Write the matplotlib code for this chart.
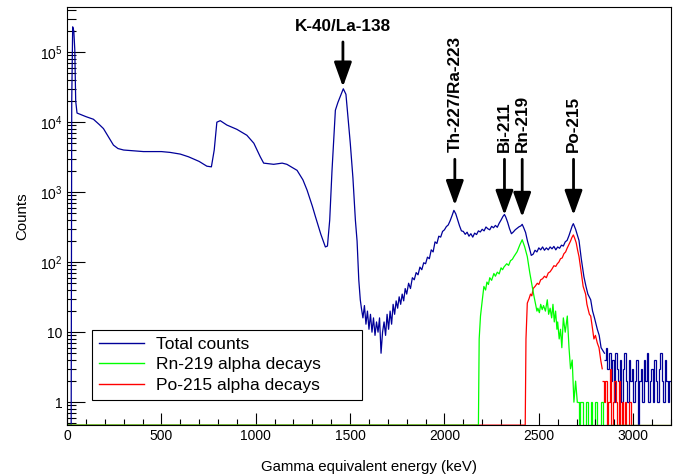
import numpy as np
import matplotlib
matplotlib.use('Agg')
import matplotlib.pyplot as plt
from matplotlib.ticker import FixedLocator, FixedFormatter, LogLocator, NullFormatter, MultipleLocator
from matplotlib.lines import Line2D

plt.rcParams['font.family'] = ['Liberation Sans', 'DejaVu Sans']
plt.rcParams['mathtext.fontset'] = 'custom'
plt.rcParams['mathtext.rm'] = 'Liberation Sans'
plt.rcParams['mathtext.it'] = 'Liberation Sans:italic'
plt.rcParams['mathtext.bf'] = 'Liberation Sans:bold'

# total spectrum, smooth part (keV, counts)
total_e = [0, 22, 25, 30, 36, 41, 46, 53, 100, 140, 170, 193, 219, 246, 270, 300,
           350, 405, 460, 500, 546, 600, 644, 700, 741, 765, 780, 794, 812, 847,
           900, 953, 990, 1024, 1042, 1095, 1140, 1165, 1219, 1250, 1272, 1300,
           1316, 1345, 1369, 1380, 1392, 1404, 1413, 1422, 1435, 1450, 1464, 1478,
           1490, 1501, 1515, 1528, 1537, 1546, 1554, 1560, 1568, 1576, 1584, 1592,
           1600, 1608, 1616, 1624, 1632, 1640, 1648, 1656, 1664, 1672, 1680, 1688,
           1696, 1704, 1712, 1720, 1728, 1736, 1744, 1752, 1760, 1768, 1776, 1784,
           1792, 1800, 1810, 1820, 1830, 1840, 1850, 1860, 1870, 1880, 1890, 1900,
           1910, 1920, 1930, 1940, 1950, 1960, 1970, 1980, 1990, 2000, 2010, 2020,
           2030, 2040, 2050, 2060, 2070, 2080, 2090, 2100, 2110, 2120, 2130, 2140,
           2150, 2160, 2170, 2180, 2190, 2200, 2210, 2220, 2230, 2240, 2250, 2260,
           2270, 2280, 2290, 2300, 2310, 2318, 2325, 2335, 2345, 2355, 2365, 2375,
           2385, 2395, 2405, 2412, 2420, 2430, 2440, 2450, 2460, 2470, 2480, 2490,
           2500, 2510, 2520, 2530, 2540, 2550, 2560, 2570, 2580, 2590, 2600, 2610,
           2620, 2630, 2640, 2650, 2660, 2670, 2677, 2683, 2695, 2705, 2713, 2725,
           2739, 2750, 2760, 2775, 2785, 2795, 2810, 2820, 2830, 2848]
total_c = [0, 0, 20000, 230000, 200000, 110000, 20000, 13500, 12000, 11000, 9300,
           8100, 6200, 4700, 4200, 4000, 3900, 3800, 3800, 3800, 3700, 3500, 3200,
           2750, 2350, 2300, 4000, 10000, 10500, 9100, 7900, 6500, 5000, 3200, 2600,
           2500, 2600, 2500, 2050, 1500, 1070, 630, 450, 250, 165, 170, 400, 2000,
           5500, 14800, 19000, 24000, 30000, 25000, 11000, 5000, 1600, 400, 200, 56,
           29, 22, 16, 24, 13, 20, 11, 18, 10, 16, 9, 14, 10, 16, 5, 10, 14, 9, 18,
           11, 20, 13, 25, 18, 28, 22, 32, 25, 35, 28, 42, 35, 50, 42, 60, 56,
           71, 66, 85, 78, 98, 95, 118, 112, 150, 140, 195, 185, 235, 228, 275, 290,
           322, 340, 390, 460, 550, 490, 400, 330, 280, 275, 250, 268, 235, 255,
           228, 260, 248, 280, 270, 295, 280, 318, 300, 290, 325, 310, 335, 315,
           360, 400, 450, 480, 440, 370, 300, 255, 270, 290, 305, 320, 330, 347,
           310, 265, 200, 160, 125, 130, 148, 140, 160, 150, 165, 148, 160, 150,
           165, 155, 168, 150, 165, 158, 175, 170, 195, 205, 240, 290, 330, 355,
           295, 240, 204, 112, 62, 45, 35, 29, 20, 16, 11, 9, 6, 5]

# Rn-219 alpha decays (keV, counts)
rn_e = [0, 2180, 2184, 2191, 2200, 2209, 2218, 2225, 2233, 2240, 2250, 2262, 2270,
        2280, 2290, 2300, 2308, 2315, 2330, 2340, 2350, 2360, 2368, 2385, 2400,
        2412, 2425, 2439, 2452, 2465, 2475, 2483, 2490, 2495, 2503, 2510, 2518,
        2525, 2535, 2545, 2552, 2560, 2568, 2575, 2582, 2589, 2596, 2600, 2608,
        2615, 2622, 2630, 2640, 2651, 2660, 2668, 2677, 2686, 2695, 2704]
rn_c = [0, 0, 8, 17, 28, 45, 40, 52, 48, 60, 55, 69, 63, 72, 68, 83, 78, 85, 95,
        90, 105, 110, 120, 141, 178, 209, 166, 120, 71, 45, 32, 25, 20, 22, 19, 25,
        21, 24, 20, 29, 18, 22, 16, 25, 14, 20, 11, 14, 8, 11, 6, 16, 10, 17, 6, 3,
        4, 1, 2, 1]

# Po-215 alpha decays (keV, counts)
po_e = [0, 2428, 2432, 2439, 2448, 2456, 2463, 2470, 2480, 2492, 2500, 2510, 2520,
        2530, 2540, 2550, 2560, 2570, 2580, 2590, 2598, 2606, 2615, 2624, 2633,
        2642, 2650, 2660, 2668, 2675, 2683, 2690, 2698, 2705, 2713, 2725, 2735,
        2748, 2755, 2760, 2768, 2775, 2785, 2792, 2800, 2810, 2819, 2828, 2836]
po_c = [0, 0, 8, 26, 30, 35, 33, 42, 45, 50, 48, 56, 58, 63, 60, 70, 73, 80, 89,
        87, 95, 100, 112, 115, 132, 140, 158, 180, 200, 224, 245, 220, 190, 151,
        120, 71, 45, 35, 25, 22, 18, 17, 11, 8, 9, 7, 6, 4, 3]

# low-count tails, 8 keV bins
total_tail_start = 2848
total_tail = [4, 6, 3, 5, 2, 4, 1, 5, 3, 2, 4, 1, 3, 5, 2, 1, 4, 2, 3, 1, 2, 4,
              0, 2, 3, 1, 4, 2, 5, 1, 2, 3, 1, 4, 2, 1, 3, 5, 2, 1, 4, 2, 1, 2]
rn_tail_start = 2704
rn_tail = [1, 0, 1, 1, 0, 0, 1, 0, 0, 1, 0, 0, 1, 0, 0, 0, 1, 0, 0, 0, 0, 0, 0, 0,
           0, 0, 0, 0, 0, 0, 0, 0, 0, 0, 0, 0, 0, 0, 0, 0, 0, 0, 0, 0, 0, 0, 0, 0,
           0, 0, 0, 0, 0, 0, 0, 0, 0, 0, 0, 0, 0, 0]
po_tail_start = 2836
po_tail = [2, 1, 2, 0, 1, 3, 0, 1, 2, 1, 0, 2, 0, 1, 0, 1, 0, 0, 1, 0, 0, 0, 0, 0,
           0, 0, 0, 0, 0, 0, 0, 0, 0, 0, 0, 0, 0, 0, 0, 0, 0, 0, 0, 0, 0, 0]
tail_bin = 8

# peak markers
peak_labels = ['K-40/La-138', 'Th-227/Ra-223', 'Bi-211', 'Rn-219', 'Po-215']
peak_energy = [1462, 2055, 2318, 2412, 2684]
arrow_tip = [32000, 650, 470, 440, 470]
arrow_tail = [140000, 2950, 2950, 2950, 2950]
label_y = [230000, 3700, 3700, 3700, 3700]

x_max = 3200
y_min, y_max = 0.47, 4.4e5
y_ticks = [1, 10, 1e2, 1e3, 1e4, 1e5]
y_tick_labels = ['1', '10', '$10^{2}$', '$10^{3}$', '$10^{4}$', '$10^{5}$']

blue = '#000099'
green = '#00ff00'
red = '#ff0000'

fig = plt.figure(figsize=(6.86, 4.75), dpi=100)
ax = fig.add_axes([0.0977, 0.105, 0.8803, 0.880])


def floor(vals):
    # empty bins sit on the bottom of the frame
    v = np.asarray(vals, dtype=float)
    return np.where(v > 0, v, y_min)


def draw(e, c, start, tail, col):
    ax.plot(e, floor(c), color=col, lw=0.9)
    edges = start + tail_bin * np.arange(len(tail) + 1)
    ax.stairs(floor(tail), edges, baseline=None, color=col, lw=0.9)


draw(total_e, total_c, total_tail_start, total_tail, blue)
draw(po_e, po_c, po_tail_start, po_tail, red)
draw(rn_e, rn_c, rn_tail_start, rn_tail, green)

ax.set_yscale('log')
ax.set_xlim(0, x_max)
ax.set_ylim(y_min, y_max)

ax.yaxis.set_major_locator(FixedLocator(y_ticks))
ax.yaxis.set_major_formatter(FixedFormatter(y_tick_labels))
ax.yaxis.set_minor_locator(LogLocator(base=10, subs=np.arange(2, 10)))
ax.yaxis.set_minor_formatter(NullFormatter())
ax.xaxis.set_major_locator(MultipleLocator(500))
ax.xaxis.set_minor_locator(MultipleLocator(100))

ax.tick_params(axis='both', which='both', direction='in', width=0.8,
               labelsize=10, colors='black')
ax.tick_params(axis='y', which='major', length=13, pad=3)
ax.tick_params(axis='y', which='minor', length=6.5)
ax.tick_params(axis='x', which='major', length=8.6, pad=3)
ax.tick_params(axis='x', which='minor', length=4.3)
for s in ax.spines.values():
    s.set_linewidth(0.8)

ax.set_xlabel('Gamma equivalent energy (keV)', fontsize=10.8, labelpad=12)
ax.set_ylabel('Counts', fontsize=10.8, labelpad=8)

for i, lab in enumerate(peak_labels):
    ax.annotate('', xy=(peak_energy[i], arrow_tip[i]),
                xytext=(peak_energy[i], arrow_tail[i]),
                arrowprops=dict(arrowstyle='-|>,head_length=1.0,head_width=0.36',
                                color='black', lw=2, mutation_scale=15,
                                shrinkA=0, shrinkB=0))
    if i == 0:
        ax.text(peak_energy[i], label_y[i], lab, ha='center', va='center',
                fontsize=12.3, fontweight='bold')
    else:
        ax.text(peak_energy[i], label_y[i], lab, ha='center', va='bottom',
                rotation=90, fontsize=12.3, fontweight='bold')

handles = [Line2D([], [], color=blue, lw=1), Line2D([], [], color=green, lw=1),
           Line2D([], [], color=red, lw=1)]
leg = ax.legend(handles, ['Total counts', 'Rn-219 alpha decays', 'Po-215 alpha decays'],
                loc='lower left', bbox_to_anchor=(0.041, 0.060, 0.447, 0.165),
                mode='expand', fontsize=12.5, frameon=True, fancybox=False,
                edgecolor='black', framealpha=1, borderpad=0.4, labelspacing=0.32,
                handlelength=2.6, handletextpad=0.7, borderaxespad=0)
leg.get_frame().set_linewidth(0.8)

fig.savefig('out.png', dpi=100)
